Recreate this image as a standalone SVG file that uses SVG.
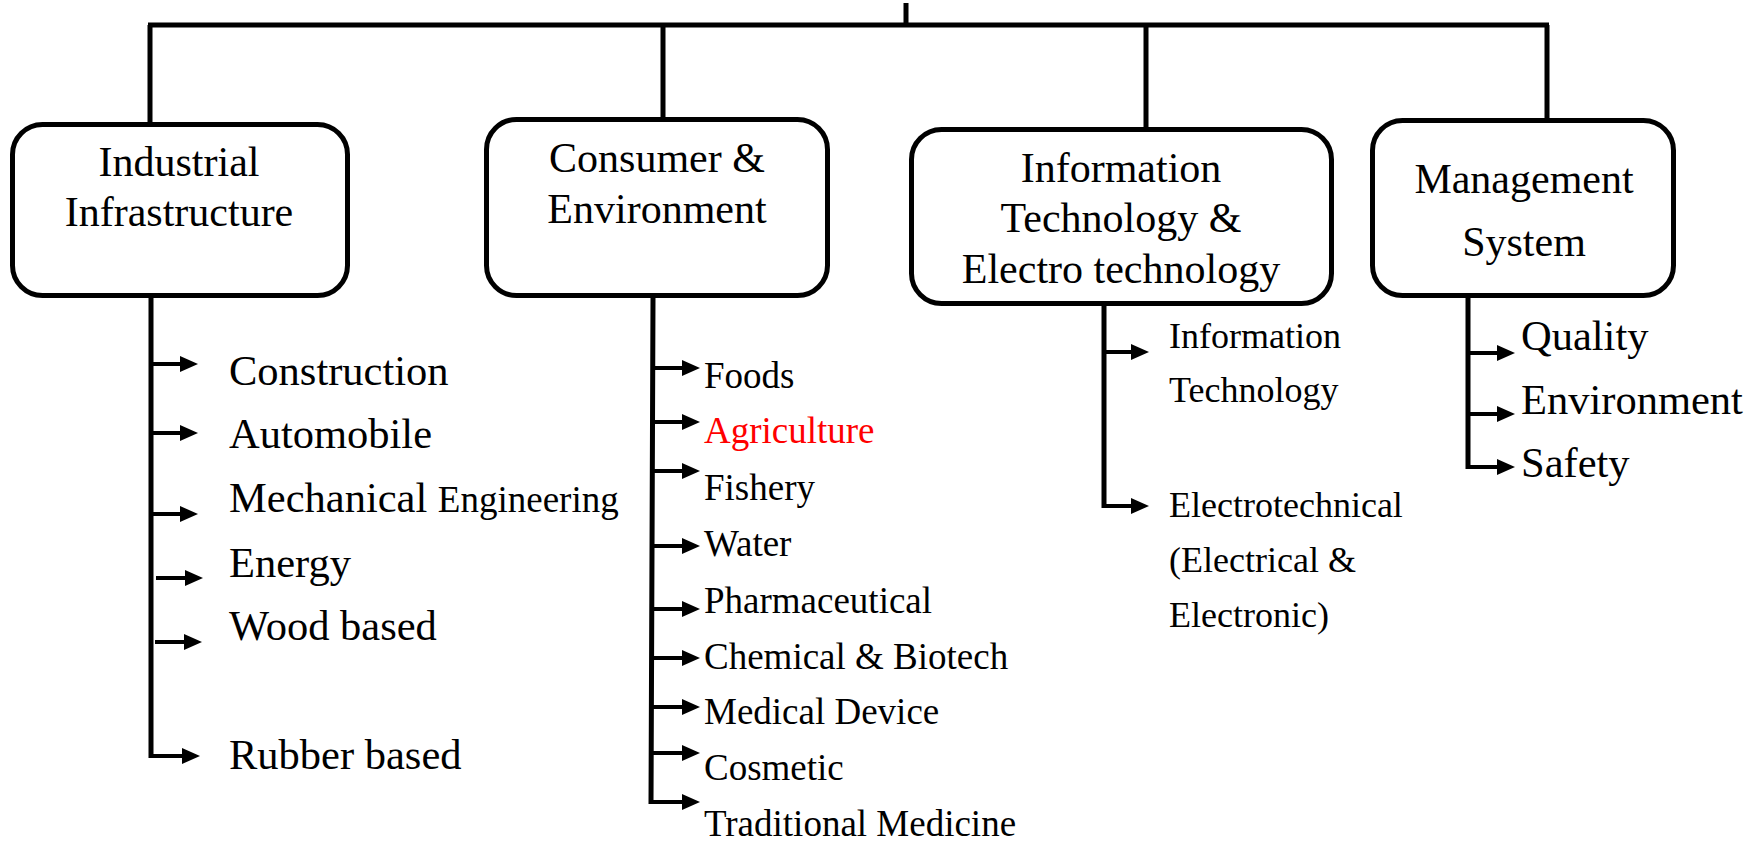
<svg xmlns="http://www.w3.org/2000/svg" width="1761" height="841" viewBox="0 0 1761 841">
<style>
.box{fill:#fff;stroke:#000;stroke-width:5}
.ln{fill:none;stroke:#000;stroke-width:5}
.ar{fill:none;stroke:#000;stroke-width:4;marker-end:url(#ah)}
text{font-family:"Liberation Serif","Times New Roman",serif;fill:#000}
.bt{font-size:42px;text-anchor:middle}
.l1{font-size:42.5px}
.l2{font-size:37px}
.l3{font-size:36px}
</style>
<defs>
<marker id="ah" viewBox="0 0 18 16" refX="0" refY="8" markerWidth="18" markerHeight="16" markerUnits="userSpaceOnUse" orient="auto">
<path d="M0,0 L18,8 L0,16 z" fill="#000"/>
</marker>
</defs>
<g id="connectors">
<path class="ln" d="M906,3 V25 M148,25 H1549 M150,25 V124 M663,25 V119 M1146,25 V129 M1547,25 V120"/>
<path class="ln" d="M151,298 V758 M653,298 L651,804 M1104,306 V508 M1468,298 V469"/>
<path class="ar" d="M151,364 H180"/>
<path class="ar" d="M151,433 H180"/>
<path class="ar" d="M151,514 H180"/>
<path class="ar" d="M156,578 H185"/>
<path class="ar" d="M155,642 H184"/>
<path class="ar" d="M151,756 H182"/>
<path class="ar" d="M653,368 H682"/>
<path class="ar" d="M653,422 H682"/>
<path class="ar" d="M653,471 H682"/>
<path class="ar" d="M652,546 H682"/>
<path class="ar" d="M652,609 H682"/>
<path class="ar" d="M652,658 H682"/>
<path class="ar" d="M652,707 H682"/>
<path class="ar" d="M651,753 H682"/>
<path class="ar" d="M651,802 H682"/>
<path class="ar" d="M1104,352 H1131"/>
<path class="ar" d="M1104,506 H1131"/>
<path class="ar" d="M1468,353 H1497"/>
<path class="ar" d="M1468,414 H1497"/>
<path class="ar" d="M1468,467 H1497"/>
</g>
<g id="industrial">
<rect class="box" x="12.5" y="124.5" width="335" height="171" rx="30"/>
<text class="bt" x="179" y="176">Industrial</text>
<text class="bt" x="179" y="226">Infrastructure</text>
<text class="l1" x="229" y="385">Construction</text>
<text class="l1" x="229" y="448">Automobile</text>
<text class="l1" x="229" y="512">Mechanical <tspan style="font-size:37px">Engineering</tspan></text>
<text class="l1" x="229" y="577">Energy</text>
<text class="l1" x="229" y="640">Wood based</text>
<text class="l1" x="229" y="769">Rubber based</text>
</g>
<g id="consumer">
<rect class="box" x="486.5" y="119.5" width="341" height="176" rx="30"/>
<text class="bt" x="657" y="172">Consumer &amp;</text>
<text class="bt" x="657" y="223">Environment</text>
<text class="l2" x="704" y="388">Foods</text>
<text class="l2" x="704" y="443" style="fill:#ff0000">Agriculture</text>
<text class="l2" x="704" y="500">Fishery</text>
<text class="l2" x="704" y="556">Water</text>
<text class="l2" x="704" y="613">Pharmaceutical</text>
<text class="l2" x="704" y="669">Chemical &amp; Biotech</text>
<text class="l2" x="704" y="724">Medical Device</text>
<text class="l2" x="704" y="780">Cosmetic</text>
<text class="l2" x="704" y="836">Traditional Medicine</text>
</g>
<g id="infotech">
<rect class="box" x="911.5" y="129.5" width="420" height="174" rx="30"/>
<text class="bt" x="1121" y="182">Information</text>
<text class="bt" x="1121" y="232">Technology &amp;</text>
<text class="bt" x="1121" y="283">Electro technology</text>
<text class="l3" x="1169" y="348">Information</text>
<text class="l3" x="1169" y="402">Technology</text>
<text class="l3" x="1169" y="517">Electrotechnical</text>
<text class="l3" x="1169" y="572">(Electrical &amp;</text>
<text class="l3" x="1169" y="627">Electronic)</text>
</g>
<g id="management">
<rect class="box" x="1372.5" y="120.5" width="301" height="175" rx="30"/>
<text class="bt" x="1524" y="193">Management</text>
<text class="bt" x="1524" y="256">System</text>
<text class="l1" x="1521" y="350">Quality</text>
<text class="l1" x="1521" y="414">Environment</text>
<text class="l1" x="1521" y="477">Safety</text>
</g>
</svg>
